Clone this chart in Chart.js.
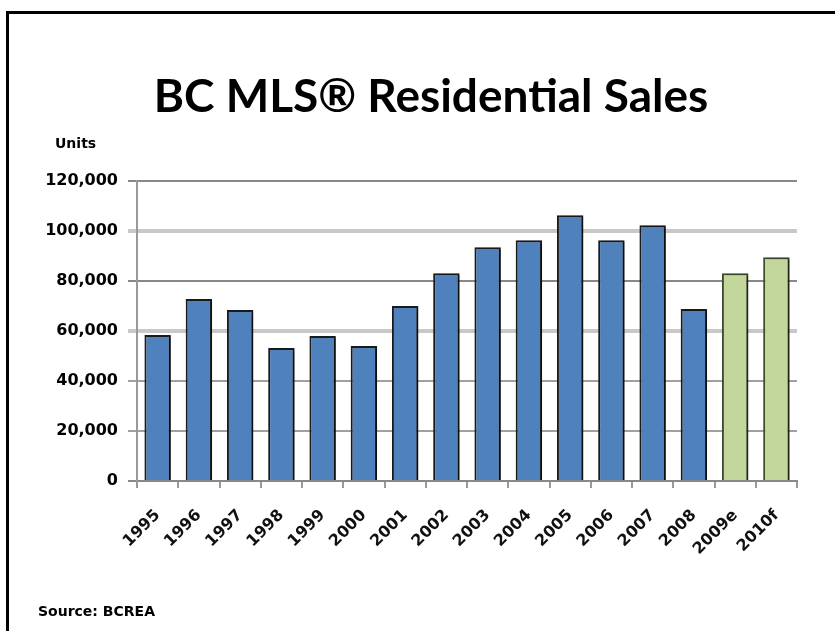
<!DOCTYPE html>
<html>
<head>
<meta charset="utf-8">
<script src="https://cdn.jsdelivr.net/npm/chart.js@4/dist/chart.umd.min.js"></script>
<style>
  body { margin: 0; background: #fff; }
  #wrap { position: relative; width: 835px; height: 631px; overflow: hidden; }
  #frame { position: absolute; left: 6px; top: 11px; width: 900px; height: 700px;
           border-left: 3px solid #000; border-top: 3px solid #000; }
  .note { position: absolute; font-family: "DejaVu Sans", sans-serif;
          font-weight: bold; color: #000; }
  #units { left: 55px; top: 135px; font-size: 14px; }
  #source { left: 38px; top: 603px; font-size: 14px; }
  canvas { position: absolute; left: 0; top: 0; }
</style>
</head>
<body>
<div id="wrap">
  <div id="frame"></div>
  <canvas id="grafica" width="835" height="631"></canvas>
  <div class="note" id="units">Units</div>
  <div class="note" id="source">Source: BCREA</div>
</div>
<script>
// datos
const years = ["1995", "1996", "1997", "1998", "1999", "2000", "2001", "2002",
               "2003", "2004", "2005", "2006", "2007", "2008", "2009e", "2010f"];
const sales = [58400, 72800, 68400, 53200, 58000, 54000, 70000, 83200,
               93600, 96400, 106400, 96400, 102400, 68800, 83200, 89600];
const forecastYears = ["2009e", "2010f"];
const yTicks = [0, 20000, 40000, 60000, 80000, 100000, 120000];

const colorActual = '#4f81bd';
const colorForecast = '#c3d69b';
const tickFont = { family: '"DejaVu Sans", sans-serif', size: 16, weight: 'bold' };

// sombra de las barras
const sombraBarras = {
  id: 'sombraBarras',
  beforeDatasetsDraw(chart) {
    const ctx = chart.ctx;
    ctx.save();
    ctx.shadowColor = 'rgba(0,0,0,0.45)';
    ctx.shadowOffsetX = 3;
    ctx.shadowOffsetY = 1;
    ctx.shadowBlur = 2;
  },
  afterDatasetsDraw(chart) {
    chart.ctx.restore();
  }
};

// el titulo original esta centrado en el recuadro, no en el canvas
const centrarTitulo = {
  id: 'centrarTitulo',
  afterLayout(chart) {
    if (chart.titleBlock) {
      chart.titleBlock.left = 65;
    }
  }
};

// color de cada linea de la grilla
const gridColors = {
  0: '#8a8a8a', 20000: '#a0a0a0', 40000: '#a0a0a0', 60000: '#c8c8c8',
  80000: '#888888', 100000: '#c8c8c8', 120000: '#888888'
};

const ctx = document.getElementById('grafica').getContext('2d');
new Chart(ctx, {
  type: 'bar',
  data: {
    labels: years,
    datasets: [{
      label: 'Units',
      data: sales,
      backgroundColor: years.map(y => forecastYears.includes(y) ? colorForecast : colorActual),
      borderColor: years.map(y => forecastYears.includes(y) ? '#3a4a2a' : '#1a1a1a'),
      borderWidth: 2,
      barPercentage: 0.64,
      categoryPercentage: 1
    }]
  },
  options: {
    responsive: false,
    animation: false,
    layout: { padding: { left: 0, right: 38, top: 0, bottom: 0 } },
    plugins: {
      legend: { display: false },
      tooltip: { enabled: false },
      title: {
        display: true,
        text: 'BC MLS® Residential Sales',
        color: '#000',
        font: { family: 'Lato, "DejaVu Sans", sans-serif', size: 46, weight: 'bold' },
        padding: { top: 70, bottom: 56 }
      }
    },
    scales: {
      x: {
        grid: { display: true, drawOnChartArea: false, offset: true, color: '#999', tickLength: 7, lineWidth: 2 },
        border: { color: '#888', width: 2 },
        ticks: {
          maxRotation: 45, minRotation: 45, autoSkip: false,
          padding: 18,
          color: '#111',
          font: tickFont
        },
        afterFit(scale) { scale.height = 150; }
      },
      y: {
        min: 0, max: 120000,
        afterBuildTicks(scale) { scale.ticks = yTicks.map(v => ({ value: v })); },
        grid: {
          color: c => gridColors[c.tick.value] || '#999',
          lineWidth: c => (gridColors[c.tick.value] === '#c8c8c8' ? 4 : 2),
          tickLength: 9
        },
        border: { color: '#999', width: 2 },
        ticks: {
          padding: 10,
          color: '#000',
          callback: v => v.toLocaleString('en-US'),
          font: tickFont
        },
        afterFit(scale) { scale.width = 137; }
      }
    }
  },
  plugins: [sombraBarras, centrarTitulo]
});
</script>
</body>
</html>
